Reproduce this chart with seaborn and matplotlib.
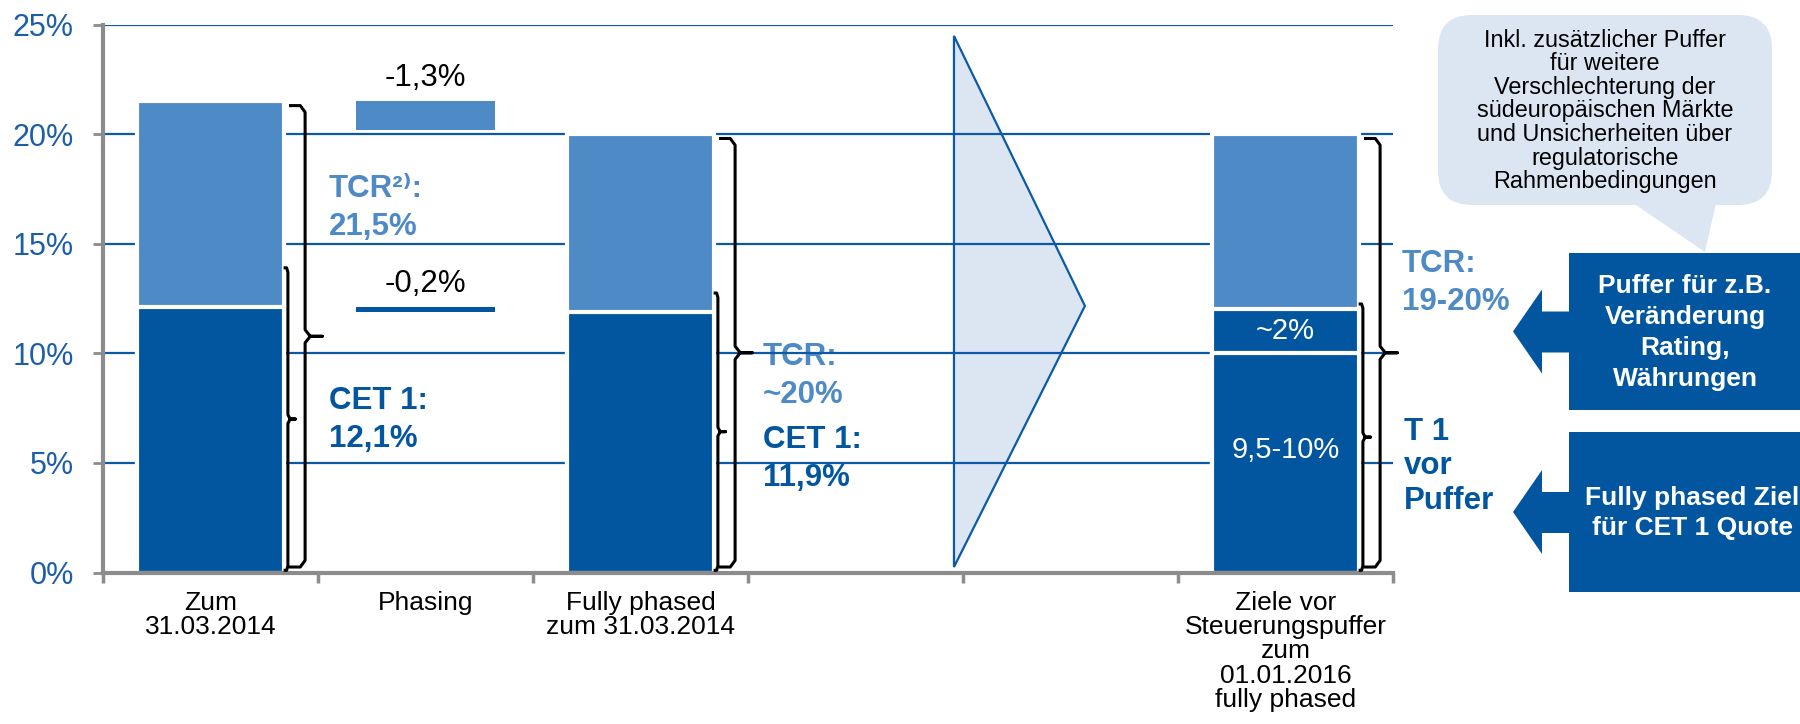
import matplotlib.pyplot as plt
import numpy as np
import pandas as pd
import seaborn as sns
from matplotlib.patches import FancyBboxPatch, Polygon, Rectangle

# Daten (Kapitalquoten in %)
kategorien = ["ist", "phasing", "fully", "leer1", "leer2", "ziel"]
achsen_labels = ["Zum\n31.03.2014", "Phasing", "Fully phased\nzum 31.03.2014", "", "",
                 "Ziele vor\nSteuerungspuffer\nzum\n01.01.2016\nfully phased"]
tcr_quote = [21.5, None, 20.0, None, None, 20.0]
t1_quote = [12.1, None, 11.9, None, None, 12.0]
cet1_kern = [None, None, None, None, None, 10.0]
phasing_tcr = -1.3
phasing_cet1 = -0.2
y_ticks = [0, 5, 10, 15, 20, 25]

DUNKEL = "#02569F"
HELL = "#4E8AC6"
GRID = "#0C5AA6"
GRAU = "#8C8C8C"
BLASS = "#DCE6F3"

sns.set_theme(style="white")
plt.rcParams["font.family"] = ["Liberation Sans", "DejaVu Sans"]

fig, ax = plt.subplots(figsize=(18, 7.24), dpi=100)
fig.subplots_adjust(left=103 / 1800, right=1393 / 1800, bottom=1 - 572.5 / 724, top=1 - 24.5 / 724)


def schicht(werte, boeden=None):
    rows = []
    for i, (k, v) in enumerate(zip(kategorien, werte)):
        if v is None:
            continue
        b = 0 if boeden is None else boeden[i]
        rows.append({"kat": k, "hoehe": v, "boden": b})
    return pd.DataFrame(rows)


def balken(df, farbe, breite=0.68, lw=3):
    sns.barplot(data=df, x="kat", y="hoehe", order=kategorien, color=farbe, width=breite,
                bottom=df["boden"].to_numpy(), errorbar=None, saturation=1,
                edgecolor="white", linewidth=lw, zorder=3, ax=ax)


# gestapelte Balken (übereinander gezeichnet)
balken(schicht(tcr_quote), HELL)
balken(schicht(t1_quote), DUNKEL)
balken(schicht(cet1_kern), DUNKEL)

# Phasing-Schritte als schwebende Balken
p_tcr = pd.DataFrame({"kat": ["phasing"], "hoehe": [-phasing_tcr], "boden": [tcr_quote[0] + phasing_tcr]})
p_cet = pd.DataFrame({"kat": ["phasing"], "hoehe": [-phasing_cet1], "boden": [t1_quote[0] + phasing_cet1]})
balken(p_tcr, HELL, breite=0.65, lw=0)
balken(p_cet, DUNKEL, breite=0.65, lw=0)
for delta, start in [(phasing_tcr, tcr_quote[0]), (phasing_cet1, t1_quote[0])]:
    ax.text(1, start + 0.7, f"{delta:.1f}%".replace(".", ","), ha="center", va="baseline",
            fontsize=22.5, color="black", zorder=4)

# Werte im Zielbalken
ax.text(5, (cet1_kern[5] + t1_quote[5]) / 2, "~2%", ha="center", va="center", color="white",
        fontsize=21, zorder=4)
ax.text(5, 5.6, "9,5-10%", ha="center", va="center", color="white", fontsize=21, zorder=4)


# geschweifte Klammern
def klammer(x, y0, y1, haken, spitze, r):
    ym = (y0 + y1) / 2
    xs = [x - haken, x - haken * 0.3, x, x, x + spitze * 0.3, x + spitze, x + spitze * 0.3, x, x, x - haken * 0.3, x - haken]
    ys = [y1, y1, y1 - r, ym + r, ym, ym, ym, ym - r, y0 + r, y0, y0]
    ax.plot(xs, ys, color="black", lw=2.2, solid_joinstyle="round", solid_capstyle="butt",
            zorder=4, clip_on=False)


klein_oben = [13.9, None, 12.75, None, None, 12.25]
for i, tcr in enumerate(tcr_quote):
    if tcr is None:
        continue
    klammer(i + 0.44, 0.25, tcr - 0.2, 0.075, 0.08, 0.3)
    klammer(i + 0.36, 0.1, klein_oben[i], 0.02, 0.035, 0.2)


# Beschriftungen neben den Balken
def beschriftung(x, y, text, farbe, ls=1.35):
    ax.text(x, y, text, color=farbe, fontsize=22.5, fontweight="bold", ha="left", va="top",
            linespacing=ls, zorder=2)


beschriftung(0.55, 18.2, "TCR²⁾:\n21,5%", HELL)
beschriftung(0.55, 8.5, "CET 1:\n12,1%", DUNKEL)
beschriftung(2.57, 10.5, "TCR:\n~20%", HELL)
beschriftung(2.57, 6.75, "CET 1:\n11,9%", DUNKEL)
beschriftung(5.54, 14.75, "TCR:\n19-20%", HELL)
beschriftung(5.55, 7.1, "T 1\nvor\nPuffer", DUNKEL, ls=1.2)

# Pfeil (Dreieck) zwischen Ist und Ziel
ax.add_patch(Polygon([(3.458, 0.25), (3.458, 24.48), (4.067, 12.16)], closed=True,
                     facecolor=BLASS, edgecolor=GRID, lw=1.6, zorder=1))

# Achsen
ax.set_ylim(0, 25)
ax.set_xlim(-0.5, len(kategorien) - 0.5)
ax.set_yticks(y_ticks, labels=[f"{v}%" for v in y_ticks])
ax.set_xticks(np.arange(-0.5, len(kategorien)), labels=[""] * (len(kategorien) + 1))
ax.set_xticks(np.arange(len(kategorien)), labels=achsen_labels, minor=True)
ax.set_xlabel("")
ax.set_ylabel("")
ax.set_axisbelow(False)
ax.yaxis.grid(True, color=GRID, lw=1.6)
ax.xaxis.grid(False, which="both")
ax.tick_params(axis="y", left=True, length=7, width=2, color=GRAU, labelcolor="#1C5EA8",
               labelsize=22, pad=14, direction="out")
ax.tick_params(axis="x", which="major", bottom=True, length=7, width=2.5, color=GRAU, direction="out")
ax.tick_params(axis="x", which="minor", bottom=True, length=0, pad=13, labelsize=19,
               labelcolor="black")
for lab in ax.get_xticklabels(minor=True):
    lab.set_linespacing(1.02)
for s in ["top", "right"]:
    ax.spines[s].set_visible(False)
for s in ["left", "bottom"]:
    ax.spines[s].set_color(GRAU)
    ax.spines[s].set_linewidth(3)
    ax.spines[s].set_zorder(3.5)

# Overlay für Sprechblase und Pfeilboxen (Pixelkoordinaten)
ov = fig.add_axes([0, 0, 1, 1])
ov.set_xlim(0, 1800)
ov.set_ylim(724, 0)
ov.set_axis_off()

ov.add_patch(FancyBboxPatch((1438, 15), 334, 190, boxstyle="round,pad=0,rounding_size=34",
                            facecolor=BLASS, edgecolor="none"))
ov.add_patch(Polygon([(1633, 203), (1716, 203), (1705, 252)], closed=True, facecolor=BLASS,
                     edgecolor="none"))
ov.text(1605, 111, "Inkl. zusätzlicher Puffer\nfür weitere\nVerschlechterung der\n"
        "südeuropäischen Märkte\nund Unsicherheiten über\nregulatorische\nRahmenbedingungen",
        ha="center", va="center", fontsize=16.8, linespacing=1.03, color="black")

for (y0, y1), text, tx in [((253, 410), "Puffer für z.B.\nVeränderung\nRating,\nWährungen", 1685),
                           ((432, 592), "Fully phased Ziel\nfür CET 1 Quote", 1692)]:
    ym = (y0 + y1) / 2
    ov.add_patch(Rectangle((1569, y0), 240, y1 - y0, facecolor=DUNKEL, edgecolor="none"))
    ov.add_patch(Polygon([(1513, ym), (1542, ym - 42), (1542, ym - 20), (1570, ym - 20),
                          (1570, ym + 21), (1542, ym + 21), (1542, ym + 42)], closed=True,
                         facecolor=DUNKEL, edgecolor="none"))
    ov.text(tx, ym + 1, text, ha="center", va="center", color="white", fontsize=19,
            fontweight="bold", linespacing=1.36)

fig.savefig("out.png", dpi=100)
